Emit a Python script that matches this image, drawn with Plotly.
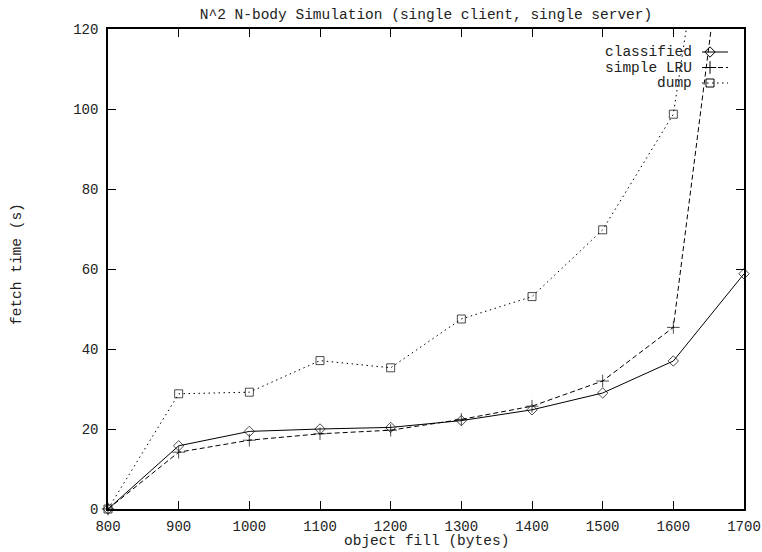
import plotly.graph_objects as go

# Object fill sizes (bytes)
fill_bytes = [800, 900, 1000, 1100, 1200, 1300, 1400, 1500, 1600, 1700]

# Fetch times (s) for each caching policy
classified = [0, 15.8, 19.4, 20.0, 20.4, 22.1, 24.8, 29.0, 37.0, 58.8]
simple_lru = [0, 14.2, 17.2, 18.8, 19.7, 22.4, 25.7, 32.0, 45.4, 185.0]
dump = [0, 28.8, 29.2, 37.1, 35.3, 47.5, 53.1, 69.8, 98.7, 215.0]

series_names = ["classified", "simple LRU", "dump"]
x_ticks = [800, 900, 1000, 1100, 1200, 1300, 1400, 1500, 1600, 1700]
y_ticks = [0, 20, 40, 60, 80, 100, 120]

Y_MAX = 120
FONT = "Liberation Mono, Courier New, monospace"
INK = "#222222"

styles = [
    dict(dash="solid", symbol="diamond-open", size=8),
    dict(dash="5px,3px", symbol="cross-thin-open", size=9),
    dict(dash="1.5px,3.5px", symbol="square-open", size=8),
]

fig = go.Figure()

for name, values, st in zip(series_names, [classified, simple_lru, dump], styles):
    # points above the top of the axis are not marked (the line is clipped)
    sizes = [st["size"] if v <= Y_MAX else 0 for v in values]
    fig.add_trace(go.Scatter(
        x=fill_bytes, y=values, name=name, mode="lines+markers",
        line=dict(color="black", width=1, dash=st["dash"]),
        marker=dict(symbol=st["symbol"], size=sizes, color="black",
                    line=dict(color="black", width=1)),
        cliponaxis=False, showlegend=False,
    ))

# Key drawn in the upper-right corner: label on the left, sample on the right
key_rows = [52, 67.5, 83]
for name, st, ky in zip(series_names, styles, key_rows):
    fig.add_trace(go.Scatter(
        x=[702, 728], y=[ky, ky], xaxis="x2", yaxis="y2", mode="lines",
        line=dict(color="black", width=1, dash=st["dash"]),
        showlegend=False, hoverinfo="skip",
    ))
    fig.add_trace(go.Scatter(
        x=[710], y=[ky], xaxis="x2", yaxis="y2", mode="markers",
        marker=dict(symbol=st["symbol"], size=st["size"], color="black",
                    line=dict(color="black", width=1)),
        showlegend=False, hoverinfo="skip",
    ))
    fig.add_annotation(
        x=694, y=ky, xref="x2", yref="y2", text=name, showarrow=False,
        xanchor="right", yanchor="middle",
        font=dict(family=FONT, size=14.5, color=INK),
    )

axis_common = dict(
    showgrid=False, zeroline=False, showline=True, linecolor="black",
    linewidth=1.5, mirror="ticks", ticks="inside", ticklen=8, tickwidth=1,
    tickcolor="black", tickfont=dict(family=FONT, size=14, color=INK),
    automargin=False,
)

fig.update_layout(
    width=762, height=552,
    margin=dict(l=108, r=18, t=29, b=43),
    paper_bgcolor="white", plot_bgcolor="white",
    title=dict(
        text="N^2 N-body Simulation (single client, single server)",
        x=0.5, xref="paper", xanchor="center",
        y=1 - 14 / 552, yref="container", yanchor="middle",
        font=dict(family=FONT, size=14.5, color=INK),
    ),
    xaxis=dict(range=[800, 1700], tickvals=x_ticks, ticklabelstandoff=3,
               **axis_common),
    yaxis=dict(range=[0, Y_MAX], tickvals=y_ticks, ticklabelstandoff=5,
               **axis_common),
    xaxis2=dict(overlaying="x", range=[108, 744], visible=False),
    yaxis2=dict(overlaying="y", range=[509, 29], visible=False),
)

fig.add_annotation(
    x=0.5, y=-32 / 480, xref="paper", yref="paper",
    text="object fill (bytes)", showarrow=False,
    xanchor="center", yanchor="middle",
    font=dict(family=FONT, size=14.5, color=INK),
)
fig.add_annotation(
    x=-(108 - 17) / 636, y=0.5 + 5 / 480, xref="paper", yref="paper",
    text="fetch time (s)", showarrow=False, textangle=-90,
    xanchor="center", yanchor="middle",
    font=dict(family=FONT, size=14.5, color=INK),
)

fig.write_html("out.html")
